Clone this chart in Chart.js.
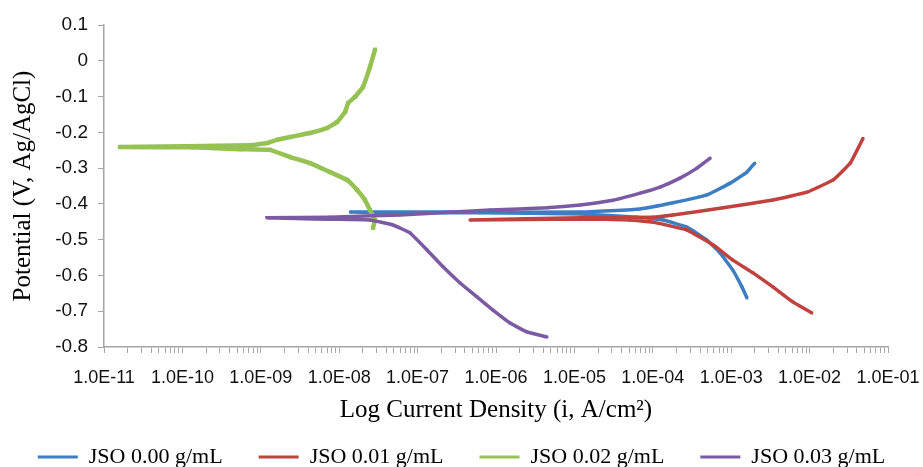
<!DOCTYPE html>
<html>
<head>
<meta charset="utf-8">
<title>Tafel polarization curves</title>
<script src="https://cdn.jsdelivr.net/npm/chart.js@4/dist/chart.umd.min.js"></script>
<style>
  html, body { margin: 0; padding: 0; background: #fff; }
  #wrap { width: 923px; height: 467px; }
</style>
</head>
<body>
<div id="wrap"><canvas id="tafelChart" width="923" height="467"></canvas></div>
<script>
// Series names (legend)
const seriesNames = ['JSO 0.00 g/mL', 'JSO 0.01 g/mL', 'JSO 0.02 g/mL', 'JSO 0.03 g/mL'];

// Each scan runs from the cathodic end, through Ecorr, to the anodic end.
// Current density in A/cm2, potential in V vs Ag/AgCl.
const jso000Current = [1.59e-3, 1.37e-3, 1.05e-3, 7.2e-4, 4.9e-4, 2.73e-4, 1.35e-4, 6.3e-5, 1.2e-5, 6.3e-7, 6.0e-8, 1.4e-8,
                       2.6e-7, 1.2e-5, 6.9e-5, 1.81e-4, 4.9e-4, 9.7e-4, 1.59e-3, 2.0e-3];
const jso000Potential = [-0.663, -0.632, -0.585, -0.537, -0.501, -0.465, -0.445, -0.437, -0.428, -0.425, -0.425, -0.423,
                         -0.423, -0.423, -0.414, -0.397, -0.375, -0.342, -0.311, -0.286];

const jso001Current = [1.07e-2, 6.1e-3, 3.4e-3, 1.9e-3, 1.05e-3, 5.9e-4, 2.73e-4, 1.0e-4, 5.1e-5, 1.17e-5, 4.66e-7,
                       1.17e-5, 1.0e-4, 1.81e-4, 7.9e-4, 3.4e-3, 9.3e-3, 2.0e-2, 3.3e-2, 4.8e-2];
const jso001Potential = [-0.705, -0.674, -0.632, -0.593, -0.557, -0.515, -0.473, -0.451, -0.445, -0.442, -0.445,
                         -0.439, -0.437, -0.431, -0.411, -0.389, -0.367, -0.333, -0.286, -0.217];

const jso002Current = [2.7e-8, 2.86e-8, 2.47e-8, 2.13e-8, 1.69e-8, 1.26e-8, 7.64e-9, 4.24e-9, 2.36e-9, 1.31e-9, 5.4e-10, 1.36e-10,
                       1.6e-11, 7.3e-10, 1.2e-9, 1.61e-9, 2.36e-9, 4.24e-9, 6.98e-9, 9.4e-9, 1.19e-8, 1.3e-8, 1.59e-8, 2.01e-8,
                       2.47e-8, 2.86e-8];
const jso002Potential = [-0.467, -0.445, -0.417, -0.389, -0.361, -0.333, -0.311, -0.286, -0.269, -0.249, -0.247, -0.242,
                         -0.241, -0.236, -0.230, -0.221, -0.213, -0.202, -0.188, -0.171, -0.143, -0.118, -0.101, -0.073,
                         -0.017, 0.031];

const jso003Current = [4.47e-6, 2.48e-6, 1.51e-6, 9.16e-7, 5.73e-7, 3.48e-7, 2.11e-7, 1.32e-7, 8.0e-8, 4.85e-8, 2.47e-8, 7.6e-9,
                       1.2e-9, 7.6e-9, 5.97e-8, 8.4e-7, 4.47e-6, 1.18e-5, 3.1e-5, 6.9e-5, 1.24e-4, 2.22e-4, 3.66e-4, 5.4e-4];
const jso003Potential = [-0.772, -0.758, -0.733, -0.697, -0.660, -0.621, -0.576, -0.529, -0.481, -0.459, -0.445, -0.443,
                         -0.439, -0.437, -0.431, -0.417, -0.411, -0.403, -0.390, -0.370, -0.353, -0.328, -0.300, -0.272];

// Axis ranges
const xDecadeMin = -11;
const xDecadeMax = -1;
const yMin = -0.8;
const yMax = 0.1;

const colors = ['#3d7ec3', '#c0423f', '#96c153', '#7b5aa4'];

function toPoints(current, potential) {
  return current.map((c, i) => ({ x: c, y: potential[i] }));
}

function sciLabel(exp) {
  const sign = exp < 0 ? '-' : '+';
  const abs = Math.abs(exp);
  return '1.0E' + sign + (abs < 10 ? '0' + abs : abs);
}

const seriesData = [
  toPoints(jso000Current, jso000Potential),
  toPoints(jso001Current, jso001Potential),
  toPoints(jso002Current, jso002Potential),
  toPoints(jso003Current, jso003Potential)
];

const datasets = seriesData.map((pts, i) => ({
  label: seriesNames[i],
  data: pts,
  showLine: true,
  borderColor: colors[i],
  backgroundColor: colors[i],
  borderWidth: i === 2 ? 4.5 : 3.5,
  pointRadius: i === 2 ? 3 : 2,
  pointStyle: 'rect',
  pointBorderWidth: 0,
  tension: 0.1,
  order: 4 - i
}));

const ctx = document.getElementById('tafelChart').getContext('2d');

new Chart(ctx, {
  type: 'scatter',
  data: { datasets: datasets },
  options: {
    responsive: false,
    animation: false,
    layout: { padding: { left: 0, right: 0, top: 25, bottom: -11 } },
    scales: {
      x: {
        type: 'logarithmic',
        min: Math.pow(10, xDecadeMin),
        max: Math.pow(10, xDecadeMax),
        afterBuildTicks: scale => {
          const ticks = [];
          for (let e = xDecadeMin; e < xDecadeMax; e++) {
            for (let m = 1; m <= 9; m++) {
              ticks.push({ value: Number((m * Math.pow(10, e)).toPrecision(2)) });
            }
          }
          ticks.push({ value: Math.pow(10, xDecadeMax) });
          scale.ticks = ticks;
        },
        afterFit: scale => {
          scale.height = 63;
          scale.paddingRight = 35;
        },
        grid: { drawOnChartArea: false, tickLength: 6, color: '#a6a6a6' },
        border: { color: '#a6a6a6', width: 1.5 },
        ticks: {
          autoSkip: false,
          maxRotation: 0,
          minRotation: 0,
          padding: 14,
          color: '#111',
          font: { family: 'Liberation Sans', size: 18 },
          callback: value => {
            const e = Math.log10(value);
            return Math.abs(e - Math.round(e)) < 1e-6 ? sciLabel(Math.round(e)) : '';
          }
        },
        title: {
          display: true,
          text: 'Log Current Density (i, A/cm\u00B2)',
          color: '#000',
          font: { family: 'Liberation Serif', size: 25 },
          padding: { top: 0, bottom: -15 }
        }
      },
      y: {
        min: yMin,
        max: yMax,
        afterFit: scale => { scale.width = 104; },
        grid: { drawOnChartArea: false, tickLength: 6, color: '#a6a6a6' },
        border: { color: '#a6a6a6', width: 1.5 },
        ticks: {
          stepSize: 0.1,
          padding: 10,
          color: '#111',
          font: { family: 'Liberation Sans', size: 19 },
          callback: value => String(Math.round(value * 10) / 10)
        },
        title: {
          display: true,
          text: 'Potential (V, Ag/AgCl)',
          color: '#000',
          font: { family: 'Liberation Serif', size: 25 },
          padding: { top: 8, bottom: 0 }
        }
      }
    },
    plugins: {
      legend: {
        position: 'bottom',
        labels: {
          boxWidth: 40,
          boxHeight: 3,
          padding: 36,
          color: '#000',
          font: { family: 'Liberation Serif', size: 22 },
          sort: (a, b) => a.datasetIndex - b.datasetIndex,
          generateLabels: chart =>
            Chart.defaults.plugins.legend.labels.generateLabels(chart).map(item => ({ ...item, lineWidth: 0 }))
        }
      },
      tooltip: { enabled: false }
    }
  }
});
</script>
</body>
</html>
